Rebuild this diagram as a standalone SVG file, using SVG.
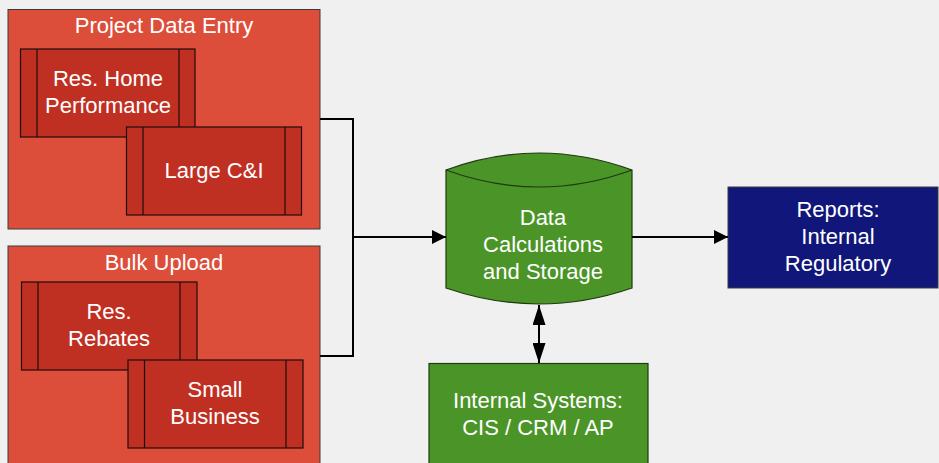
<svg xmlns="http://www.w3.org/2000/svg" width="939" height="463" viewBox="0 0 939 463">
  <defs>
    <marker id="arrow" viewBox="0 0 14 14" refX="14" refY="7" markerWidth="14" markerHeight="14" markerUnits="userSpaceOnUse" orient="auto-start-reverse">
      <path d="M0,0 L14,7 L0,14 Z" fill="#000"/>
    </marker>
    <marker id="arrow-long" viewBox="0 0 20 13" refX="20" refY="6.5" markerWidth="20" markerHeight="13" markerUnits="userSpaceOnUse" orient="auto-start-reverse">
      <path d="M0,0 L20,6.5 L0,13 Z" fill="#000"/>
    </marker>
  </defs>
  <style>
    .bg { fill: #f0f0f0; }
    .group { fill: #dc4d3a; stroke: #3a3a3a; stroke-width: 1; }
    .proc { fill: #bf3023; stroke: #1e0c0a; stroke-width: 1.2; }
    .bar { stroke: #1e0c0a; stroke-width: 1.2; }
    .green { fill: #4b9528; stroke: #1f3a10; stroke-width: 1.2; }
    .navy { fill: #11177a; stroke: #3a3a3a; stroke-width: 1; }
    .label { font-family: "Liberation Sans", Arial, sans-serif; font-size: 22px; fill: #ffffff; text-anchor: middle; }
    .wire { fill: none; stroke: #000; stroke-width: 2; }
  </style>

  <rect class="bg" x="0" y="0" width="939" height="463"/>

  <!-- Project data entry group -->
  <g id="project-data-entry">
    <rect class="group" x="8" y="9.5" width="312" height="219.5"/>
    <text class="label" x="164" y="33">Project Data Entry</text>
  </g>

  <g id="res-home-performance">
    <rect class="proc" x="20.5" y="49" width="174.5" height="88"/>
    <line class="bar" x1="37" y1="49" x2="37" y2="137"/>
    <line class="bar" x1="179" y1="49" x2="179" y2="137"/>
    <text class="label" x="108" y="86">Res. Home</text>
    <text class="label" x="108" y="113">Performance</text>
  </g>

  <g id="large-ci">
    <rect class="proc" x="126.5" y="127" width="175" height="88"/>
    <line class="bar" x1="143" y1="127" x2="143" y2="215"/>
    <line class="bar" x1="285" y1="127" x2="285" y2="215"/>
    <text class="label" x="214" y="178">Large C&amp;I</text>
  </g>

  <!-- Bulk upload group -->
  <g id="bulk-upload">
    <rect class="group" x="8" y="246" width="312" height="230"/>
    <text class="label" x="164" y="270">Bulk Upload</text>
  </g>

  <g id="res-rebates">
    <rect class="proc" x="21.5" y="282" width="175.5" height="88"/>
    <line class="bar" x1="38" y1="282" x2="38" y2="370"/>
    <line class="bar" x1="180" y1="282" x2="180" y2="370"/>
    <text class="label" x="109" y="319">Res.</text>
    <text class="label" x="109" y="346">Rebates</text>
  </g>

  <g id="small-business">
    <rect class="proc" x="128" y="360" width="175" height="88"/>
    <line class="bar" x1="144.5" y1="360" x2="144.5" y2="448"/>
    <line class="bar" x1="286" y1="360" x2="286" y2="448"/>
    <text class="label" x="215" y="397">Small</text>
    <text class="label" x="215" y="424">Business</text>
  </g>

  <!-- Central data store -->
  <g id="data-store">
    <path class="green" d="M446,170 Q539,136 632,170 L632,288 Q539,320 446,288 Z"/>
    <path fill="none" stroke="#1f3a10" stroke-width="1.2" d="M446,170 Q539,204 632,170"/>
    <text class="label" x="543" y="225">Data</text>
    <text class="label" x="543" y="252">Calculations</text>
    <text class="label" x="543" y="279">and Storage</text>
  </g>

  <g id="reports">
    <rect class="navy" x="728" y="187" width="210" height="101"/>
    <text class="label" x="838" y="217">Reports:</text>
    <text class="label" x="838" y="244">Internal</text>
    <text class="label" x="838" y="271">Regulatory</text>
  </g>

  <g id="internal-systems">
    <rect class="green" x="429" y="363.5" width="219" height="110"/>
    <text class="label" x="538" y="408">Internal Systems:</text>
    <text class="label" x="538" y="435">CIS / CRM / AP</text>
  </g>

  <!-- Connectors -->
  <g id="connectors">
    <path class="wire" d="M320,119 H353 V356 H320"/>
    <path class="wire" d="M353,237 H446" marker-end="url(#arrow)"/>
    <path class="wire" d="M632,237 H728" marker-end="url(#arrow)"/>
    <path class="wire" d="M539,305 V363" marker-start="url(#arrow-long)" marker-end="url(#arrow-long)"/>
  </g>
</svg>
